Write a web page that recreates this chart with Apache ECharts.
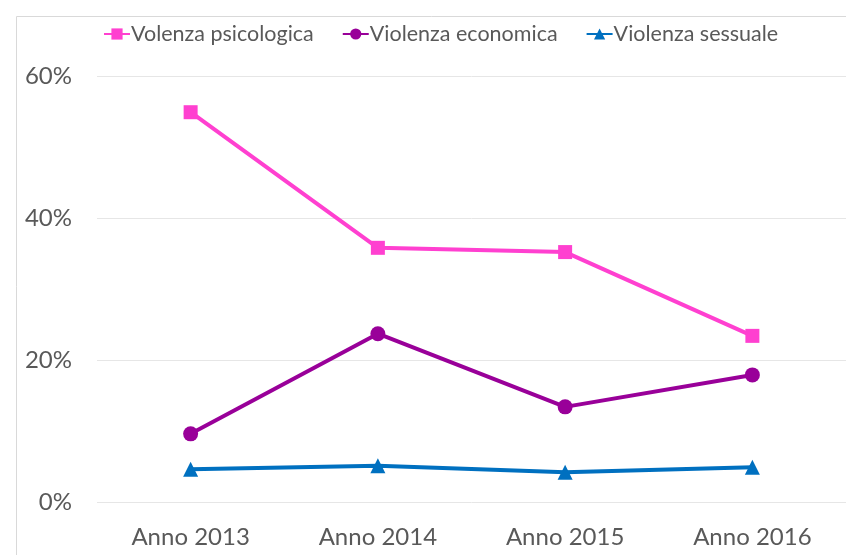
<!DOCTYPE html>
<html>
<head>
<meta charset="utf-8">
<script src="https://cdn.jsdelivr.net/npm/echarts@6/dist/echarts.min.js"></script>
<style>
  html, body { margin: 0; padding: 0; background: #fff; }
  #chart { width: 846px; height: 555px; }
</style>
</head>
<body>
<div id="chart"></div>
<script>
const anni = ['Anno 2013', 'Anno 2014', 'Anno 2015', 'Anno 2016'];
const psicologica = [54.9, 35.8, 35.2, 23.4];
const economica = [9.6, 23.7, 13.4, 17.9];
const sessuale = [4.6, 5.1, 4.2, 4.9];
const yTicks = [0, 20, 40, 60];

const txt = '#595959';
const font = 'Lato';

const chart = echarts.init(document.getElementById('chart'));

function serie(name, data, color, symbol, size) {
  return {
    name: name,
    type: 'line',
    data: data,
    symbol: symbol,
    symbolSize: size,
    lineStyle: { color: color, width: 4 },
    itemStyle: { color: color },
    emphasis: { disabled: true }
  };
}

chart.setOption({
  animation: false,
  graphic: [{
    type: 'rect',
    shape: { x: 16.5, y: 16.5, width: 900, height: 600 },
    style: { fill: 'none', stroke: '#d9d9d9', lineWidth: 1 },
    silent: true
  }],
  legend: {
    top: 18,
    left: 98,
    itemGap: 28,
    itemWidth: 26,
    itemHeight: 14,
    textStyle: { color: txt, fontSize: 21.5, fontFamily: font, padding: [0, 0, 0, -4] },
    data: ['Volenza psicologica', 'Violenza economica', 'Violenza sessuale']
  },
  grid: { left: 97, right: -1, top: 76, bottom: 53 },
  xAxis: {
    type: 'category',
    data: anni,
    boundaryGap: true,
    axisLine: { show: false },
    axisTick: { show: false },
    axisLabel: { color: txt, fontSize: 24, fontFamily: font, margin: 23 }
  },
  yAxis: {
    type: 'value',
    min: yTicks[0],
    max: yTicks[yTicks.length - 1],
    interval: 20,
    axisLine: { show: false },
    axisTick: { show: false },
    splitLine: { lineStyle: { color: '#e6e6e6', width: 1 } },
    axisLabel: { color: txt, fontSize: 24, fontFamily: font, margin: 25, formatter: '{value}%' }
  },
  series: [
    serie('Volenza psicologica', psicologica, '#ff40d0', 'rect', 14),
    serie('Violenza economica', economica, '#990099', 'circle', 15),
    serie('Violenza sessuale', sessuale, '#0070c0', 'triangle', 15)
  ]
});
</script>
</body>
</html>
